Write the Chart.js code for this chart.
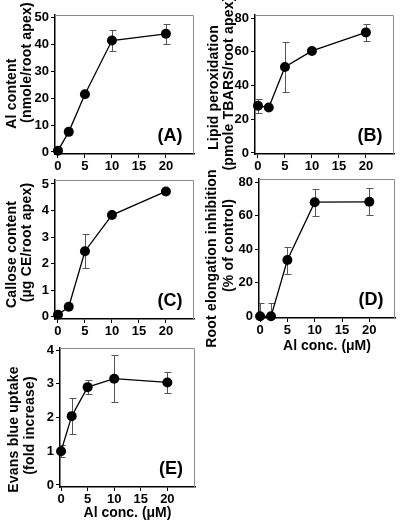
<!DOCTYPE html>
<html>
<head>
<meta charset="utf-8">
<script src="https://cdn.jsdelivr.net/npm/chart.js@4"></script>
<style>
  body { margin: 0; background: #fff; }
  #wrap { position: relative; width: 400px; height: 523px; }
  canvas { position: absolute; }
</style>
</head>
<body>
<div id="wrap">
  <canvas id="chartA" width="200" height="170" style="left:0;top:0"></canvas>
  <canvas id="chartB" width="200" height="170" style="left:200px;top:0"></canvas>
  <canvas id="chartC" width="200" height="170" style="left:0;top:165px"></canvas>
  <canvas id="chartD" width="200" height="191" style="left:200px;top:164px"></canvas>
  <canvas id="chartE" width="200" height="189" style="left:0;top:333px"></canvas>
</div>
<script>
// Al concentration (uM) used in every panel
const conc = [0, 2, 5, 10, 20];
const xTicks = [0, 5, 10, 15, 20];

// (A) Al content, nmole/root apex
const alContent = [0.5, 7.5, 21.5, 41.5, 44];
const alContentErr = [0, 0, 0, 4, 3.8];
const ticksA = [0, 10, 20, 30, 40, 50];

// (B) Lipid peroxidation, pmole TBARS/root apex
const lipidPerox = [28, 27, 51, 60.5, 71.5];
const lipidPeroxErr = [4, 0, 15, 0, 5];
const ticksB = [0, 20, 40, 60, 80];

// (C) Callose content, ug CE/root apex
const callose = [0.08, 0.38, 2.47, 3.83, 4.72];
const calloseErr = [0, 0, 0.64, 0, 0];
const ticksC = [0, 1, 2, 3, 4, 5];

// (D) Root elongation inhibition, % of control
const rootInhib = [0, 0, 33.5, 68, 68.2];
const rootInhibErr = [8, 8, 8, 8, 8];
const ticksD = [0, 20, 40, 60, 80];

// (E) Evans blue uptake, fold increase
const evansBlue = [1.0, 2.04, 2.9, 3.15, 3.04];
const evansBlueErr = [0.18, 0.54, 0.21, 0.69, 0.31];
const ticksE = [0, 1, 2, 3, 4];

const FONT = '"Liberation Sans", Arial, Helvetica, sans-serif';

const decor = {
  id: 'decor',
  beforeDatasetsDraw(chart, args, o) {
    const { ctx, chartArea: a, scales: { x, y } } = chart;
    ctx.save();
    // light frame on top and right
    ctx.strokeStyle = '#8c8c8c';
    ctx.lineWidth = 1;
    ctx.beginPath();
    ctx.moveTo(a.left, a.top + 0.5);
    ctx.lineTo(a.right - 0.5, a.top + 0.5);
    ctx.lineTo(a.right - 0.5, a.bottom);
    ctx.stroke();
    // error bars
    ctx.beginPath();
    ctx.rect(a.left, a.top, a.right - a.left, a.bottom - a.top);
    ctx.clip();
    ctx.strokeStyle = '#555';
    ctx.beginPath();
    conc.forEach((c, i) => {
      const e = o.err[i];
      if (!e) return;
      const px = Math.round(x.getPixelForValue(c)) + 0.5;
      const hi = Math.round(y.getPixelForValue(o.vals[i] + e)) + 0.5;
      const lo = Math.round(y.getPixelForValue(o.vals[i] - e)) + 0.5;
      ctx.moveTo(px, hi); ctx.lineTo(px, lo);
      ctx.moveTo(px - 3, hi); ctx.lineTo(px + 4, hi);
      ctx.moveTo(px - 3, lo); ctx.lineTo(px + 4, lo);
    });
    ctx.stroke();
    ctx.restore();
  },
  afterDraw(chart, args, o) {
    const { ctx, chartArea: a } = chart;
    ctx.save();
    ctx.fillStyle = '#000';
    ctx.textAlign = 'center';
    ctx.textBaseline = 'middle';
    ctx.font = 'bold 18px ' + FONT;
    ctx.fillText(o.label, a.right - 24, a.bottom - 18);
    const cy = (a.top + a.bottom) / 2;
    o.ytitle.forEach((t, i) => {
      ctx.save();
      ctx.translate(o.titleX[i], cy + o.titleDy[i]);
      ctx.rotate(-Math.PI / 2);
      ctx.font = 'bold 14px ' + FONT;
      ctx.letterSpacing = '0.2px';
      ctx.fillText(t, 0, 0);
      ctx.restore();
    });
    ctx.restore();
  }
};

function makePanel(id, vals, errs, yTicks, p) {
  const tickFont = { family: FONT, size: 13, weight: 'bold' };
  new Chart(document.getElementById(id), {
    type: 'line',
    data: {
      datasets: [{
        data: conc.map((c, i) => ({ x: c, y: vals[i] })),
        borderColor: '#000',
        borderWidth: 1.3,
        pointRadius: 5,
        pointBackgroundColor: '#000',
        pointBorderWidth: 0,
        tension: 0,
        clip: false
      }]
    },
    options: {
      responsive: false,
      animation: false,
      devicePixelRatio: 1,
      layout: { padding: { left: 0, top: p.top, right: p.W - p.right, bottom: 0 } },
      plugins: {
        legend: { display: false },
        tooltip: { enabled: false },
        decor: { label: p.label, ytitle: p.ytitle, titleX: p.titleX, titleDy: p.titleDy, vals: vals, err: errs }
      },
      scales: {
        x: {
          type: 'linear',
          min: p.xMin, max: p.xMax,
          afterBuildTicks: s => { s.ticks = xTicks.map(v => ({ value: v })); },
          afterFit: s => { s.height = p.H - p.bottom; },
          ticks: { font: tickFont, color: '#000', padding: 1, maxRotation: 0, autoSkip: false },
          grid: { display: true, drawOnChartArea: false, drawTicks: true, tickLength: 4, color: '#000' },
          border: { display: true, color: '#000', width: 1.5 },
          title: {
            display: !!p.xtitle, text: p.xtitle, color: '#000', padding: 0,
            font: { family: FONT, size: 14, weight: 'bold' }
          }
        },
        y: {
          min: p.yMin, max: p.yMax,
          afterBuildTicks: s => { s.ticks = yTicks.map(v => ({ value: v })); },
          afterFit: s => { s.width = p.left; },
          ticks: { font: tickFont, color: '#000', padding: 2 },
          grid: { display: true, drawOnChartArea: false, drawTicks: true, tickLength: 4, color: '#000' },
          border: { display: true, color: '#000', width: 1.5 }
        }
      }
    },
    plugins: [decor]
  });
}

makePanel('chartA', alContent, alContentErr, ticksA, {
  W: 200, H: 170, left: 55, right: 194, top: 15, bottom: 154,
  xMin: -0.55, xMax: 25.2, yMin: -0.75, yMax: 51,
  label: '(A)', ytitle: ['Al content', '(nmole/root apex)'], titleX: [12, 27], titleDy: [9, -22]
});
makePanel('chartB', lipidPerox, lipidPeroxErr, ticksB, {
  W: 200, H: 170, left: 55, right: 194, top: 15, bottom: 154,
  xMin: -0.55, xMax: 25.2, yMin: -0.6, yMax: 81.8,
  label: '(B)', ytitle: ['Lipid peroxidation', '(pmole TBARS/root apex)'], titleX: [14, 29], titleDy: [3, -1]
});
makePanel('chartC', callose, calloseErr, ticksC, {
  W: 200, H: 170, left: 55, right: 194, top: 15, bottom: 154,
  xMin: -0.55, xMax: 25.2, yMin: -0.08, yMax: 5.15,
  label: '(C)', ytitle: ['Callose content', '(\u00b5g CE/root apex)'], titleX: [12, 27], titleDy: [5, -7]
});
makePanel('chartD', rootInhib, rootInhibErr, ticksD, {
  W: 200, H: 191, left: 59, right: 196, top: 15, bottom: 154,
  xMin: -0.2, xMax: 24.7, yMin: -1, yMax: 81.8,
  label: '(D)', ytitle: ['Root elongation inhibition', '(% of control)'], titleX: [12, 29], titleDy: [10, -3],
  xtitle: 'Al conc. (\u03bcM)'
});
makePanel('chartE', evansBlue, evansBlueErr, ticksE, {
  W: 200, H: 189, left: 60, right: 196, top: 15, bottom: 154,
  xMin: -0.2, xMax: 25.2, yMin: -0.06, yMax: 4.06,
  label: '(E)', ytitle: ['Evans blue uptake', '(fold increase)'], titleX: [14, 30], titleDy: [12, 8],
  xtitle: 'Al conc. (\u03bcM)'
});
</script>
</body>
</html>
